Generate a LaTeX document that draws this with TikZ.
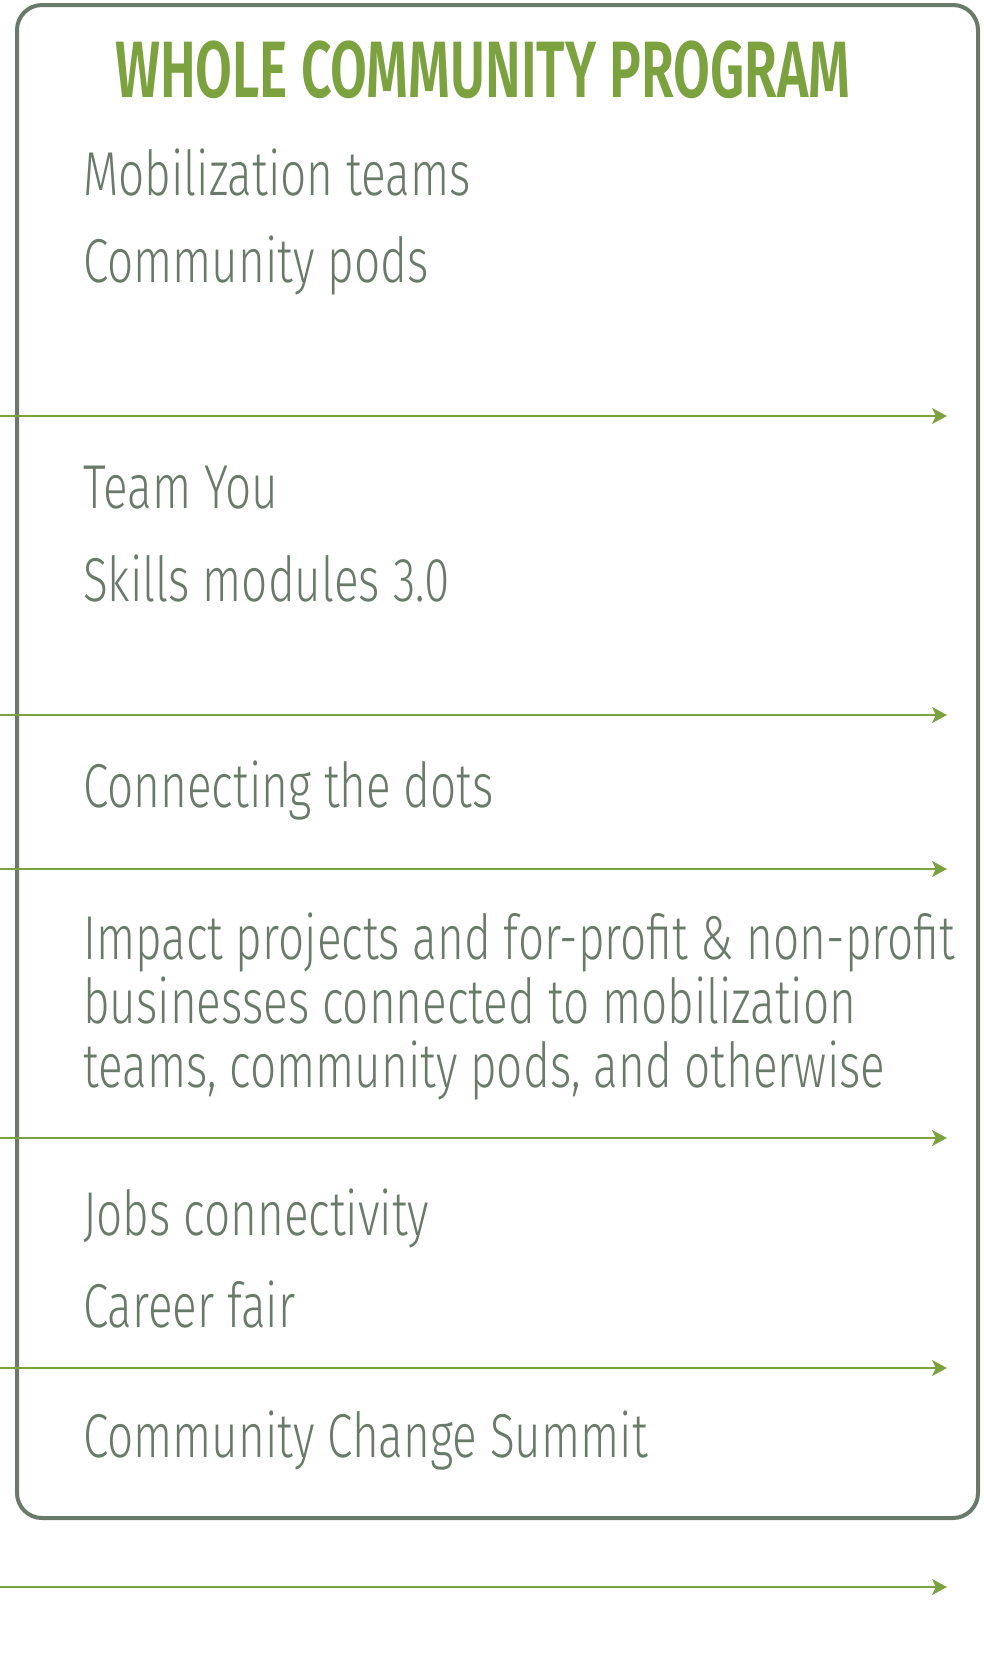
\documentclass[tikz,border=0pt]{standalone}
\usepackage{fontspec}
\setmainfont{Fira Sans}[UprightFont=* Light, BoldFont=* SemiBold, FakeStretch=0.74]
\newfontfamily\titlefont{Fira Sans}[UprightFont=* SemiBold, FakeStretch=0.667]
\usepackage{xcolor}
\usetikzlibrary{arrows.meta}
\definecolor{leafgreen}{HTML}{7BA23F}
\definecolor{slate}{HTML}{6A7A6A}

\begin{document}
\begin{tikzpicture}[x=1pt,y=-1pt,
		item/.style={anchor=base west, inner sep=0pt, text=slate, align=left,
			font=\fontsize{62}{64}\selectfont},
		arr/.style={leafgreen, line width=2pt, -{Stealth[length=15pt,width=16pt,inset=4pt]}}]
		\useasboundingbox (0,0) rectangle (983,1666);

		% Rahmen
		\draw[slate, line width=4pt, rounded corners=25pt] (17,5) rectangle (978,1518);

		% Titel
		\node[anchor=base west, inner sep=0pt, text=leafgreen, font=\titlefont\fontsize{80}{80}\selectfont]
			(title) at (115,97) {WHOLE COMMUNITY PROGRAM};

		% Texte
		\node[item] (mob) at (83,195) {Mobilization teams};
		\node[item] (pods) at (83,282) {Community pods};
		\node[item] (team) at (83,508) {Team You};
		\node[item] (skills) at (83,601) {Skills modules 3.0};
		\node[item] (dots) at (83,807) {Connecting the dots};
		% base = letzte Zeile
		\node[item] (impact) at (83,1087) {Impact projects and for-profit \& non-profit\\
			businesses connected to mobilization\\
			teams, community pods, and otherwise};
		\node[item] (jobs) at (83,1235) {Jobs connectivity};
		\node[item] (fair) at (83,1327) {Career fair};
		\node[item] (summit) at (83,1457) {Community Change Summit};

		% Koordinaten
		\coordinate (a1) at (0,416);
		\coordinate (b1) at (947,416);
		\coordinate (a2) at (0,715);
		\coordinate (b2) at (947,715);
		\coordinate (a3) at (0,869);
		\coordinate (b3) at (947,869);
		\coordinate (a4) at (0,1138);
		\coordinate (b4) at (947,1138);
		\coordinate (a5) at (0,1368);
		\coordinate (b5) at (947,1368);
		\coordinate (a6) at (0,1587);
		\coordinate (b6) at (947,1587);

		% Pfeile
		\draw[arr] (a1) -- (b1);
		\draw[arr] (a2) -- (b2);
		\draw[arr] (a3) -- (b3);
		\draw[arr] (a4) -- (b4);
		\draw[arr] (a5) -- (b5);
		\draw[arr] (a6) -- (b6);
	\end{tikzpicture}
\end{document}
